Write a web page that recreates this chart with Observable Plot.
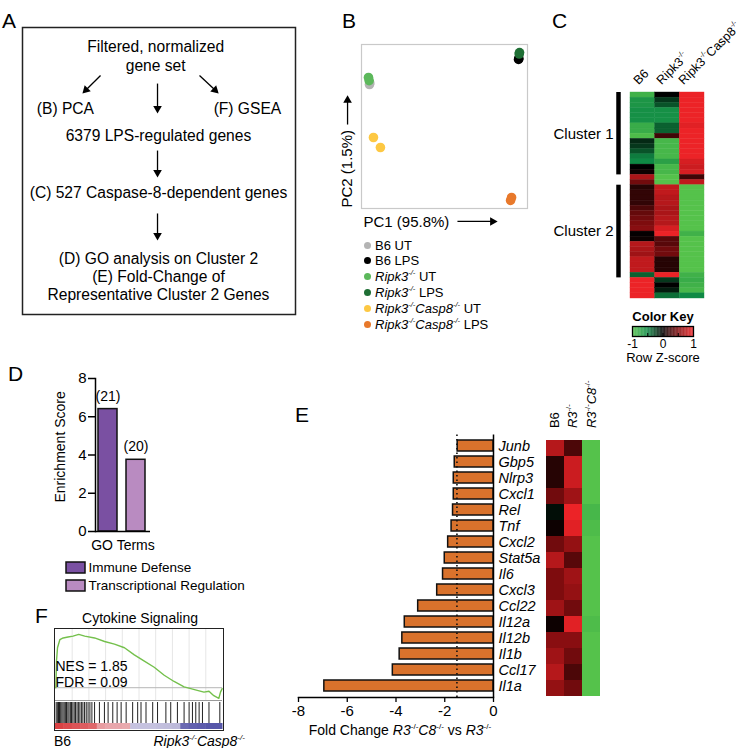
<!DOCTYPE html>
<html><head><meta charset="utf-8">
<script src="https://cdn.jsdelivr.net/npm/d3@7"></script>
<script src="https://cdn.jsdelivr.net/npm/@observablehq/plot@0.6"></script>
<style>
body{margin:0;background:#fff;}
#fig{position:relative;width:740px;height:748px;overflow:hidden;font-family:"Liberation Sans",Arial,Helvetica,sans-serif;color:#000;background:#fff;}
#fig sup{font-size:0.58em;line-height:0;vertical-align:0.8em;}
#fig svg{display:block;}
</style></head><body><div id="fig"></div>
<script>
// ===================== DATA =====================
// Panel A (flow diagram text, in layout grid units)
const flowText = ["Filtered, normalized","gene set","(B) PCA","(F) GSEA","6379 LPS-regulated genes","(C) 527 Caspase-8-dependent genes","(D) GO analysis on Cluster 2","(E) Fold-Change of","Representative Cluster 2 Genes"];
const flowCol = [7.2,7.2,2.32,12.16,7.35,7.35,7.35,7.35,7.35];
const flowRow = [1.08,2.1,4.43,4.43,5.84,8.97,12.49,13.46,14.43];
const flowArrowFrom = [[4.22,2.59],[7.3,3.03],[9.57,2.59],[7.3,6.65],[7.3,10.05]];
const flowArrowTo   = [[3.43,3.38],[7.3,4.38],[10.41,3.38],[7.3,7.84],[7.3,11.24]];

// Panel B (PCA)
const pcaGroups = ["B6 UT","B6 LPS","Ripk3-/- UT","Ripk3-/- LPS","Ripk3-/-Casp8-/- UT","Ripk3-/-Casp8-/- LPS"];
const pcaLegend = ["B6 UT","B6 LPS","<i>Ripk3<sup>-/-</sup></i> UT","<i>Ripk3<sup>-/-</sup></i> LPS","<i>Ripk3<sup>-/-</sup>Casp8<sup>-/-</sup></i> UT","<i>Ripk3<sup>-/-</sup>Casp8<sup>-/-</sup></i> LPS"];
const pcaColors = ["#b4b4b4","#000000","#5cb85b","#1f6f35","#fdc843","#e8792b"];
const pcaSampleGroup = [0,0,2,2,1,1,3,3,4,4,5,5];
const pc1 = [4.8,5.0,4.2,4.6,94.6,94.8,95.2,95.0,7.2,11.4,90.4,89.8];
const pc2 = [75.6,76.5,79.9,78.0,90.9,91.5,95.1,94.2,43.3,37.2,6.7,4.9];

// Panel C (heatmap of 527 genes, row z-scores, binned rows)
const heatColumns = ["B6","Ripk3-/-","Ripk3-/-Casp8-/-"];
const heatColumnLabels = ["B6","Ripk3<sup>-/-</sup>","Ripk3<sup>-/-</sup>Casp8<sup>-/-</sup>"];
const zB6 = [-0.85,-0.6,-0.6,-0.55,-0.55,-0.55,-0.8,-0.8,-0.95,-0.15,-0.2,-0.3,-0.45,-0.5,0,0.05,0.7,0.45,0.15,0.2,0.2,0.2,0.3,0.4,0.45,0.5,0.55,0.02,0.05,0.75,0.7,0.65,0.8,0.8,0.8,-0.35,1,1,1,1];
const zRipk3 = [0,-0.2,-0.3,-0.55,-0.55,-0.55,-0.35,-0.35,0.25,-0.9,-0.9,-0.9,-0.9,-0.7,-0.9,-0.9,-1,-1,0.8,0.8,0.75,0.75,0.7,0.7,0.75,0.75,0.9,1,0.35,0.35,0.45,0.45,0.15,0.15,0.15,1,-0.2,0,-0.1,-0.4];
const zR3C8 = [1,1,1,1,1,1,0.95,1,1,1,1,1,1,0.9,0.85,0.9,0.25,0.8,-1,-1,-1,-1,-1,-1,-1,-1,-1,-0.85,-1,-1,-1,-1,-1,-1,-1,-0.85,-0.8,-0.85,-0.9,-0.5];
const clusterNames = ["Cluster 1","Cluster 2"];
const clusterFirstRow = [0,18];
const clusterLastRow = [15,35];
const keyTicks = [-1,-0.5,0,0.5,1];
const keyTickLabels = [-1,0,1];

// Panel D (GO enrichment)
const goTerms = ["Immune Defense","Transcriptional Regulation"];
const goScores = [6.4,3.75];
const goCounts = [21,20];
const goColors = ["#7a50a2","#b98bc1"];

// Panel E (fold change + heatmap)
const genes = ["Junb","Gbp5","Nlrp3","Cxcl1","Rel","Tnf","Cxcl2","Stat5a","Il6","Cxcl3","Ccl22","Il12a","Il12b","Il1b","Ccl17","Il1a"];
const foldChange = [-1.47,-1.59,-1.63,-1.63,-1.66,-1.72,-1.86,-2.0,-2.07,-2.31,-3.09,-3.64,-3.74,-3.85,-4.13,-6.94];
const fcThreshold = -1.5;
const eColumns = ["B6","R3","R3C8"];
const eColumnLabels = ["B6","<i>R3</i><sup>-/-</sup>","<i>R3</i><sup>-/-</sup><i>C8</i><sup>-/-</sup>"];
const eB6 = [0.75,0.15,0.15,0.45,-0.05,0.05,0.45,0.75,0.5,0.5,0.65,0.05,0.55,0.65,0.75,0.6];
const eR3 = [0.3,0.85,0.85,0.65,1,0.95,0.6,0.35,0.65,0.6,0.45,0.95,0.55,0.45,0.3,0.45];
const eR3C8 = [-1,-1,-1,-1,-0.9,-0.95,-1,-1,-1,-1,-1,-0.95,-1,-1,-1,-1];
const eTicks = [-8,-6,-4,-2,0];

// Panel F (GSEA)
const esRank = [0.2,0.6,1.2,2.6,4.6,7.5,10.5,13.9,17.5,23.4,29.4,35.3,41.3,47.2,53.2,59.1,65.1,71.0,77.0,81.0,84.9,88.9,91.9,94.8,97.8,98.8,99.8];
const esValue = [0.0,0.30,0.45,0.54,0.56,0.57,0.58,0.60,0.58,0.56,0.52,0.49,0.45,0.37,0.30,0.23,0.14,0.07,0.01,-0.01,-0.03,-0.05,-0.04,-0.09,-0.12,-0.05,-0.01];
const hitRanks = [0.4,1.1,1.8,2.4,3.1,3.8,4.5,5.2,5.9,6.6,7.4,8.1,8.9,9.6,10.4,11.2,12.0,12.9,13.7,14.6,15.5,16.4,17.4,18.4,19.5,20.6,21.8,23.4,26.3,29.3,31.5,34.3,36.9,39.3,42.3,46.2,49.2,51.2,54.2,58.2,61.1,66.1,69.0,73.0,77.0,80.0,82.0,84.0,86.0,88.0,91.9,98.4];
const rankedMetricBins = [0.95,0.9,0.85,0.8,0.75,0.45,0.4,0.4,0.38,-0.25,-0.25,-0.25,-0.27,-0.28,-0.3,-0.75,-0.8,-0.82,-0.85,-0.85];

// ===================== HELPERS =====================
const FONT = '"Liberation Sans", Arial, Helvetica, sans-serif';
const baseStyle = {fontFamily: FONT, fontSize: "14px", color: "#000", background: "transparent", overflow: "visible"};
const fig = document.getElementById("fig");
function put(node, left, top, parent = fig) {
  node.style.position = "absolute"; node.style.left = left + "px"; node.style.top = top + "px";
  parent.appendChild(node); return node;
}
function txt(html, x, baseline, {size = 14, anchor = "start", rotate = 0, weight = "normal", italic = false} = {}) {
  const el = document.createElement("div");
  el.innerHTML = html;
  const p = anchor === "middle" ? 50 : anchor === "end" ? 100 : 0;
  Object.assign(el.style, {position: "absolute", left: x + "px", top: (baseline - 0.85 * size) + "px",
    fontSize: size + "px", lineHeight: "1", whiteSpace: "nowrap", fontWeight: weight,
    fontStyle: italic ? "italic" : "normal", transformOrigin: `0px ${0.85 * size}px`,
    transform: `rotate(${rotate}deg) translateX(${-p}%)`});
  fig.appendChild(el);
  return el;
}
const zColor = {type: "linear", domain: [-1,-0.5,0,0.5,1], range: ["#55c24b","#0f8a45","#000000","#7e0c0e","#ec2327"], interpolate: "rgb"};

// ===================== PANEL LETTERS =====================
txt("A", 2, 28, {size: 21});
txt("B", 342, 28, {size: 21});
txt("C", 552, 28, {size: 21});
txt("D", 8, 381, {size: 21});
txt("E", 295, 422, {size: 21});
txt("F", 35, 623, {size: 21});

// ===================== PANEL A =====================
const flowArrows = flowArrowFrom.map((f, i) => {
  const t = flowArrowTo[i];
  const ang = Math.atan2(t[0] - f[0], t[1] - f[1]) * 180 / Math.PI; // y grows downward
  return {x1: f[0], y1: f[1], x2: t[0], y2: t[1], angle: 180 - ang};
});
put(Plot.plot({
  width: 273, height: 287, margin: 0,
  x: {domain: [0, 14.76], axis: null},
  y: {domain: [0, 15.51], reverse: true, axis: null},
  style: baseStyle,
  marks: [
    Plot.frame({stroke: "#222", strokeWidth: 1.5}),
    Plot.text(flowText, {x: (d, i) => flowCol[i], y: (d, i) => flowRow[i], fontSize: 15.6}),
    Plot.link(flowArrows, {x1: "x1", y1: "y1", x2: "x2", y2: "y2", stroke: "#000", strokeWidth: 1.3}),
    Plot.dot(flowArrows, {x: "x2", y: "y2", symbol: "triangle", r: 3.2, fill: "#000", rotate: "angle"})
  ]
}), 22, 27);

// ===================== PANEL B =====================
const pcaData = pc1.map((v, i) => ({group: pcaGroups[pcaSampleGroup[i]], pc1: v, pc2: pc2[i]}));
put(Plot.plot({
  width: 192, height: 189, marginLeft: 25, marginRight: 1, marginTop: 0, marginBottom: 25,
  x: {domain: [0, 100], axis: null},
  y: {domain: [0, 100], axis: null},
  color: {domain: pcaGroups, range: pcaColors},
  style: baseStyle,
  marks: [
    Plot.frame({stroke: "#c9c9c9", strokeWidth: 1.2}),
    Plot.dot(pcaData, {x: "pc1", y: "pc2", fill: "group", r: 4.8}),
    Plot.text(["PC1 (95.8%)"], {frameAnchor: "bottom-left", lineAnchor: "middle", dx: 2, dy: 14, textAnchor: "start", fontSize: 15}),
    Plot.text(["PC2 (1.5%)"], {frameAnchor: "bottom-left", lineAnchor: "middle", dx: -14, dy: -1, rotate: -90, textAnchor: "start", fontSize: 15}),
    Plot.link([{}], {x1: 57.8, x2: 79, y1: -7.9, y2: -7.9, stroke: "#000", strokeWidth: 1.3}),
    Plot.dot([{}], {x: 79, y: -7.9, symbol: "triangle", r: 3.2, fill: "#000", rotate: 90}),
    Plot.link([{}], {x1: -8.4, x2: -8.4, y1: 51.2, y2: 66, stroke: "#000", strokeWidth: 1.3}),
    Plot.dot([{}], {x: -8.4, y: 66, symbol: "triangle", r: 3.2, fill: "#000", rotate: 0})
  ]
}), 336, 44);
pcaLegend.forEach((lab, i) => {
  const cy = 245 + i * 15.8;
  const dot = document.createElement("div");
  Object.assign(dot.style, {width: "7px", height: "7px", borderRadius: "50%", background: pcaColors[i]});
  put(dot, 363.5, cy - 3.5);
  txt(lab, 375, cy + 4.6, {size: 13});
});

// ===================== PANEL C =====================
const zCols = [zB6, zRipk3, zR3C8];
const heatCells = [];
zCols.forEach((col, j) => col.forEach((z, i) => heatCells.push({col: j, row: i, z})));
const clusters = clusterNames.map((name, i) => ({name, first: clusterFirstRow[i], last: clusterLastRow[i]}));
put(Plot.plot({
  width: 154, height: 206, marginLeft: 80, marginRight: 0, marginTop: 0, marginBottom: 0,
  x: {domain: [0, heatColumns.length], axis: null},
  y: {domain: [0, zB6.length], reverse: true, axis: null},
  color: zColor,
  style: baseStyle,
  marks: [
    Plot.rect(heatCells, {x1: "col", x2: d => d.col + 1, y1: "row", y2: d => d.row + 1, fill: "z", stroke: "z", strokeWidth: 0.4}),
    Plot.ruleX(clusters, {x: 0, y1: "first", y2: d => d.last + 1, dx: -12, stroke: "#000", strokeWidth: 4.5}),
    Plot.text(clusters, {x: 0, y: d => (d.first + d.last + 1) / 2, dx: -17, text: "name", textAnchor: "end", fontSize: 15})
  ]
}), 550, 92);
heatColumnLabels.forEach((lab, i) => txt(lab, 639 + i * 22.5, 86, {size: 12.5, rotate: -45}));
const keyBins = d3.range(-1, 1, 0.025);
put(Plot.plot({
  width: 81, height: 54, marginLeft: 10, marginRight: 10, marginTop: 16, marginBottom: 28,
  x: {domain: [-1, 1], axis: null},
  y: {domain: [0, 1], axis: null},
  color: zColor,
  style: baseStyle,
  marks: [
    Plot.rect(keyBins, {x1: d => d, x2: d => d + 0.027, y1: 0, y2: 1, fill: d => d + 0.0125}),
    Plot.frame({stroke: "#000", strokeWidth: 1.3}),
    Plot.ruleX(keyTicks, {x: d => d, y1: 0, y2: 0.3, stroke: "#000", strokeWidth: 1}),
    Plot.text(keyTickLabels, {x: d => d, text: d => String(d), frameAnchor: "bottom", lineAnchor: "middle", dy: 7.5, fontSize: 12}),
    Plot.text(["Color Key"], {frameAnchor: "top", lineAnchor: "middle", dy: -10, fontWeight: "bold", fontSize: 13}),
    Plot.text(["Row Z-score"], {frameAnchor: "bottom", lineAnchor: "middle", dy: 21.5, fontSize: 13})
  ]
}), 622, 310);

// ===================== PANEL D =====================
const goData = goTerms.map((term, i) => ({term, score: goScores[i], n: goCounts[i]}));
put(Plot.plot({
  width: 150, height: 196, marginLeft: 95, marginRight: 0, marginTop: 18, marginBottom: 25,
  x: {type: "band", domain: goTerms, paddingInner: 0.31, paddingOuter: 0.1034, align: 0.333, axis: null},
  y: {domain: [0, 8]},
  color: {domain: goTerms, range: goColors},
  style: baseStyle,
  marks: [
    Plot.barY(goData, {x: "term", y: "score", fill: "term", stroke: "#111", strokeWidth: 1.5}),
    Plot.ruleY([0], {stroke: "#000", strokeWidth: 1.5}),
    Plot.frame({anchor: "left", stroke: "#000", strokeWidth: 1.5}),
    Plot.axisY({ticks: [0, 2, 4, 6, 8], tickSize: 7, tickPadding: 2, fontSize: 15, label: null, strokeWidth: 1.5}),
    Plot.text(goData, {x: "term", y: "score", text: d => `(${d.n})`, dy: -13, fontSize: 14}),
    Plot.text(["GO Terms"], {frameAnchor: "bottom", lineAnchor: "middle", dy: 14, fontSize: 14})
  ]
}), 0, 360);
txt("Enrichment Score", 65, 447, {size: 14, rotate: -90, anchor: "middle"});
put(Plot.plot({
  width: 190, height: 36, margin: 0,
  x: {type: "band", domain: ["swatch"], range: [1, 20], padding: 0, axis: null},
  y: {type: "band", domain: goTerms, range: [0, 36], paddingInner: 0.39, paddingOuter: 0.195, axis: null},
  color: {domain: goTerms, range: goColors},
  style: baseStyle,
  marks: [
    Plot.cell(goTerms, {x: () => "swatch", y: d => d, fill: d => d, stroke: "#111", strokeWidth: 1.5, inset: 0}),
    Plot.text(goTerms, {y: d => d, frameAnchor: "left", dx: 23, textAnchor: "start", fontSize: 13.5})
  ]
}), 65, 557.5);

// ===================== PANEL E =====================
const eData = genes.map((gene, i) => ({gene, fc: foldChange[i]}));
put(Plot.plot({
  width: 257, height: 317, marginLeft: 12, marginRight: 50, marginTop: 14.5, marginBottom: 40,
  x: {domain: [-8, 0]},
  y: {type: "band", domain: genes, padding: 0.33},
  style: baseStyle,
  marks: [
    Plot.barX(eData, {y: "gene", x: "fc", fill: "#d9722c", stroke: "#111", strokeWidth: 1.5}),
    Plot.ruleX([fcThreshold], {stroke: "#111", strokeWidth: 1.6, strokeDasharray: "1.5,3"}),
    Plot.ruleX([0], {stroke: "#000", strokeWidth: 1.5}),
    Plot.frame({anchor: "bottom", stroke: "#000", strokeWidth: 1.5}),
    Plot.axisX({ticks: eTicks, tickSize: 5, tickPadding: 3, tickFormat: d => String(d), fontSize: 15, label: null, strokeWidth: 1.3}),
    Plot.axisY({anchor: "right", tickSize: 0, tickPadding: 5, fontStyle: "italic", fontSize: 14.5, label: null})
  ]
}), 286, 420);
txt("Fold Change <i>R3</i><sup>-/-</sup><i>C8</i><sup>-/-</sup> vs <i>R3</i><sup>-/-</sup>", 400, 735, {size: 14, anchor: "middle"});
const eCells = [];
[eB6, eR3, eR3C8].forEach((col, j) => col.forEach((z, i) => eCells.push({col: eColumns[j], gene: genes[i], z})));
put(Plot.plot({
  width: 55, height: 270, margin: 0,
  x: {type: "band", domain: eColumns, padding: 0, axis: null},
  y: {type: "band", domain: genes, padding: 0, axis: null},
  color: zColor,
  style: baseStyle,
  marks: [Plot.cell(eCells, {x: "col", y: "gene", fill: "z", inset: 0})]
}), 545, 433);
eColumnLabels.forEach((lab, i) => txt(lab, 558.5 + i * 18.5, 428, {size: 13, rotate: -90}));

// ===================== PANEL F =====================
txt("Cytokine Signaling", 140, 623, {size: 14, anchor: "middle"});
const box = document.createElement("div");
Object.assign(box.style, {width: "170px", height: "103px", border: "1.5px solid #222", boxSizing: "border-box", background: "#fff"});
put(box, 54, 628);
const esData = esRank.map((r, i) => ({r, es: esValue[i]}));
put(Plot.plot({
  width: 167, height: 71, margin: 0,
  x: {domain: [0, 100], axis: null},
  y: {domain: [-0.144, 0.655], axis: null},
  style: baseStyle,
  marks: [
    Plot.ruleX(d3.range(10, 100, 10), {stroke: "#e6e6e6"}),
    Plot.ruleY([0], {stroke: "#b5b5b5"}),
    Plot.line(esData, {x: "r", y: "es", stroke: "#74c04c", strokeWidth: 1.4}),
    Plot.text(["NES = 1.85\nFDR = 0.09"], {frameAnchor: "left", dx: 0, dy: 9, textAnchor: "start", fontSize: 14, lineHeight: 1.15})
  ]
}), 0, 0, box);
put(Plot.plot({
  width: 167, height: 23, margin: 0,
  x: {domain: [0, 100], axis: null},
  y: {domain: [0, 1], axis: null},
  style: baseStyle,
  marks: [
    Plot.ruleY([1], {stroke: "#9a9a9a"}),
    Plot.ruleX(hitRanks, {stroke: "#222", strokeWidth: 1, insetTop: 2})
  ]
}), 0, 71, box);
const nBins = rankedMetricBins.length;
put(Plot.plot({
  width: 167, height: 6, margin: 0,
  x: {domain: [0, 100], axis: null},
  y: {domain: [0, 1], axis: null},
  color: {type: "linear", domain: [-1, 0, 1], range: ["#3c3c9c", "#f3eff5", "#d8393b"]},
  style: baseStyle,
  marks: [
    Plot.rect(rankedMetricBins, {x1: (d, i) => i * 100 / nBins, x2: (d, i) => (i + 1) * 100 / nBins + 0.3, y1: 0, y2: 1, fill: d => d})
  ]
}), 0, 94, box);
txt("B6", 54, 746, {size: 14});
txt("<i>Ripk3<sup>-/-</sup>Casp8<sup>-/-</sup></i>", 245, 746, {size: 14, anchor: "end"});
</script></body></html>
